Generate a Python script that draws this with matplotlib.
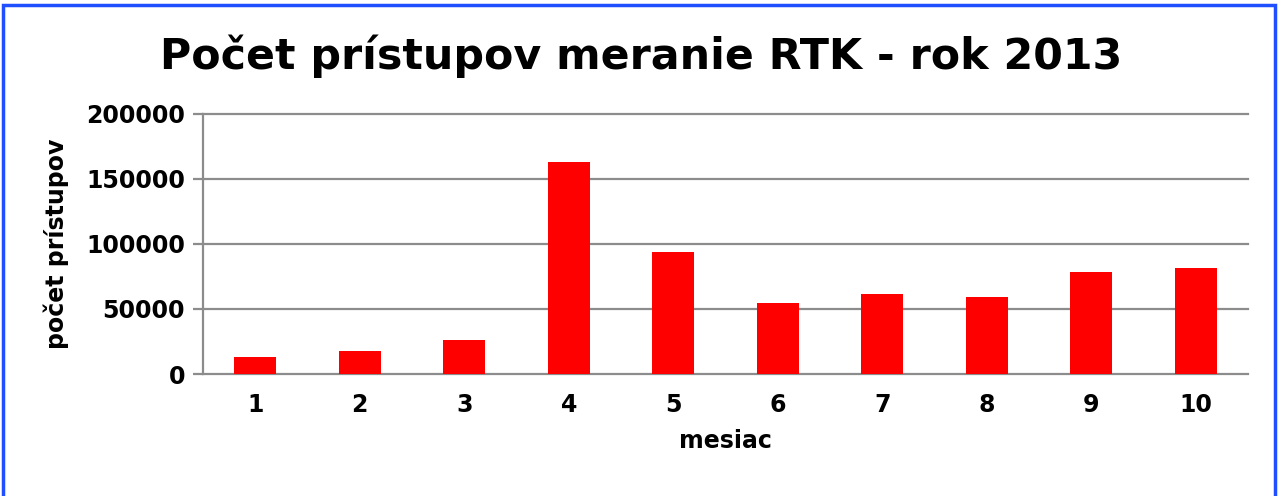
import matplotlib
matplotlib.use("Agg")
import matplotlib.pyplot as plt
from matplotlib.patches import Rectangle

months = ["1", "2", "3", "4", "5", "6", "7", "8", "9", "10"]
accesses = [13000, 17700, 26100, 163000, 93600, 54900, 61800, 59200, 78500, 81800]
yticks = [0, 50000, 100000, 150000, 200000]

title = "Počet prístupov meranie RTK - rok 2013"
xlabel = "mesiac"
ylabel = "počet prístupov"

plt.rcParams['font.family'] = ['DejaVu Sans']
fig = plt.figure(figsize=(12.78, 4.96), dpi=100)
fig.patch.set_facecolor("white")

ax = fig.add_axes([203/1278, 1-374/496, (1248-203)/1278, (374-114)/496])
ax.set_facecolor("none")
x = list(range(len(months)))
ax.bar(x, accesses, width=0.4, color="#ff0000", zorder=3)
ax.set_xlim(-0.5, len(months)-0.5)
ax.set_ylim(0, 200000)
ax.set_yticks(yticks)
ax.set_yticklabels([str(v) for v in yticks], fontsize=17, fontweight="bold")
ax.set_xticks(x)
ax.set_xticklabels(months, fontsize=17, fontweight="bold")
ax.yaxis.grid(True, color="#8c8c8c", linewidth=1.6, zorder=1)
for gl in ax.get_ygridlines():
    gl.set_clip_on(False)
ax.set_axisbelow(True)
for s in ["top", "right", "bottom"]:
    ax.spines[s].set_visible(False)
ax.spines["left"].set_color("#8c8c8c")
ax.spines["left"].set_linewidth(1.6)
ax.tick_params(axis="y", length=7, width=1.6, color="#8c8c8c", pad=6)
ax.tick_params(axis="x", length=0, pad=14)
ax.set_xlabel(xlabel, fontsize=17, fontweight="bold", labelpad=8)
ax.set_ylabel(ylabel, fontsize=17, fontweight="bold", labelpad=12)

fig.text(641/1278, 1-56/496, title, fontsize=30.8, fontweight="bold",
         ha="center", va="center")

fig.patches.append(Rectangle((0.002, -0.01), 0.996, 1.0, transform=fig.transFigure,
                             fill=False, edgecolor="#1f4fff", linewidth=2.5))

fig.savefig("out.png", dpi=100)
